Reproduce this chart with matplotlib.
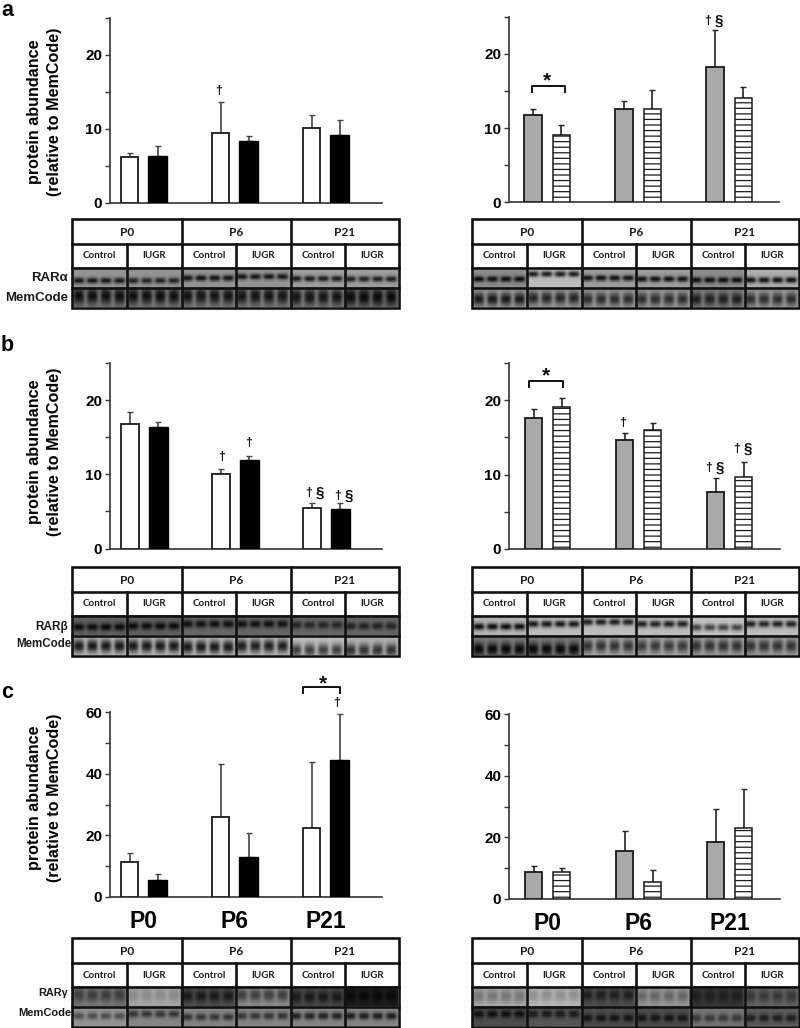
import numpy as np
import matplotlib
matplotlib.use('Agg')
import matplotlib.pyplot as plt
from matplotlib.patches import Rectangle

plt.rcParams['font.family'] = ['Liberation Sans', 'DejaVu Sans']
plt.rcParams['font.weight'] = 'bold'
plt.rcParams['hatch.linewidth'] = 0.9

W, H = 800, 1028

# bar values
ages = ['P0', 'P6', 'P21']
a_left_ctrl = [6.2, 9.5, 10.2]
a_left_ctrl_err = [0.6, 4.1, 1.7]
a_left_iugr = [6.4, 8.4, 9.2]
a_left_iugr_err = [1.3, 0.7, 2.0]
a_right_ctrl = [11.8, 12.5, 18.3]
a_right_ctrl_err = [0.8, 1.2, 4.9]
a_right_iugr = [9.1, 12.6, 14.0]
a_right_iugr_err = [1.3, 2.6, 1.6]
b_left_ctrl = [16.8, 10.0, 5.4]
b_left_ctrl_err = [1.6, 0.7, 0.7]
b_left_iugr = [16.4, 11.9, 5.3]
b_left_iugr_err = [0.7, 0.5, 0.8]
b_right_ctrl = [17.6, 14.7, 7.7]
b_right_ctrl_err = [1.2, 0.9, 1.8]
b_right_iugr = [19.1, 16.0, 9.7]
b_right_iugr_err = [1.2, 0.9, 2.0]
c_left_ctrl = [11.5, 25.8, 22.4]
c_left_ctrl_err = [2.8, 17.2, 21.5]
c_left_iugr = [5.5, 13.0, 44.5]
c_left_iugr_err = [2.0, 7.6, 15.0]
c_right_ctrl = [8.9, 15.6, 18.6]
c_right_ctrl_err = [1.7, 6.4, 10.7]
c_right_iugr = [8.9, 5.4, 23.1]
c_right_iugr_err = [1.2, 4.0, 12.6]

# blot strips: background, band darkness and band height for each of the 6 lane groups
a_l_top = ([.58, .58, .58, .58, .62, .62], [.5, .45, .52, .5, .52, .5], [.68, .68, .55, .48, .58, .6])
a_l_mem = ([.48, .48, .5, .5, .5, .42], [.42, .42, .42, .42, .42, .38], [.45, .45, .45, .45, .5, .5])
a_r_top = ([.55, .74, .62, .62, .55, .68], [.5, .62, .56, .56, .5, .62], [.6, .35, .55, .6, .65, .65])
a_r_mem = ([.6, .6, .6, .6, .5, .6], [.5, .45, .42, .42, .38, .42], [.6, .55, .6, .6, .6, .6])
b_l_top = ([.38, .38, .4, .4, .4, .4], [.34, .34, .34, .34, .26, .26], [.6, .55, .45, .45, .5, .55])
b_l_mem = ([.72, .72, .72, .72, .75, .7], [.62, .62, .62, .6, .5, .5], [.55, .55, .6, .55, .75, .75])
b_r_top = ([.7, .74, .74, .74, .76, .74], [.65, .65, .62, .62, .5, .62], [.58, .45, .35, .45, .62, .45])
b_r_mem = ([.48, .48, .65, .65, .62, .62], [.45, .45, .45, .42, .42, .42], [.7, .7, .55, .55, .55, .55])
c_l_top = ([.46, .66, .32, .55, .3, .12], [.22, .12, .22, .3, .2, .08], [.45, .45, .5, .45, .55, .5])
c_l_mem = ([.58, .52, .52, .52, .52, .52], [.28, .32, .32, .32, .4, .42], [.5, .4, .55, .5, .5, .5])
c_r_top = ([.66, .72, .32, .6, .22, .4], [.2, .16, .2, .2, .1, .18], [.5, .45, .45, .5, .5, .5])
c_r_mem = ([.3, .34, .3, .3, .46, .36], [.24, .24, .22, .22, .24, .24], [.4, .4, .6, .6, .6, .6])

fig = plt.figure(figsize=(W / 100, H / 100), dpi=100)

# pixel-coordinate layer for blots and marks
page = fig.add_axes([0, 0, 1, 1], zorder=5)
page.set_xlim(0, W)
page.set_ylim(H, 0)
page.axis('off')
page.patch.set_alpha(0)


def bars(x0, x1, y0, y1, ymax, ref, ctrl, ctrl_err, iugr, iugr_err, fill, hatched, minor, labels=False):
    ax = fig.add_axes([x0 / W, 1 - y0 / H, (x1 - x0) / W, (y0 - y1) / H])
    pos = np.arange(3)
    ax.set_xlim((x0 - ref) / 91, (x1 - ref) / 91)
    ax.set_ylim(0, ymax)
    zero = [0, 0, 0]
    ec = '#1a1a1a'
    err_c = '#222222' if hatched else '#444444'
    ax.bar(pos, ctrl, 0.19, color=fill, edgecolor=ec, linewidth=1.3, zorder=3)
    ax.errorbar(pos, ctrl, yerr=[zero, ctrl_err], fmt='none', ecolor=err_c, elinewidth=1.2, capsize=2.4, capthick=1, zorder=2)
    if hatched:
        ax.bar(pos + 0.31, iugr, 0.19, color='white', edgecolor=ec, hatch='---', linewidth=1.1, zorder=3)
    else:
        ax.bar(pos + 0.31, iugr, 0.21, color='black', edgecolor='black', linewidth=1, zorder=3)
    ax.errorbar(pos + 0.31, iugr, yerr=[zero, iugr_err], fmt='none', ecolor=err_c, elinewidth=1.2, capsize=2.4, capthick=1, zorder=2)
    for s in ['top', 'right']:
        ax.spines[s].set_visible(False)
    ax.spines['left'].set_linewidth(1.2)
    ax.spines['bottom'].set_linewidth(1.2)
    ax.spines['left'].set_color('#333333')
    ax.spines['bottom'].set_color('#333333')
    ax.set_yticks(np.arange(0, ymax + 1, minor))
    ax.set_yticklabels([str(v) if v % (2 * minor) == 0 else '' for v in np.arange(0, ymax + 1, minor)])
    ax.tick_params(axis='y', length=3.5, width=1, labelsize=11, pad=2, color='#333333')
    if labels:
        ax.set_xticks(pos + 0.155)
        ax.set_xticklabels(ages, fontsize=16.5)
        ax.tick_params(axis='x', length=0, pad=9)
    else:
        ax.set_xticks([])
    return ax


bars(110, 382, 203, 18, 25, 129.5, a_left_ctrl, a_left_ctrl_err, a_left_iugr, a_left_iugr_err, 'white', False, 5)
bars(509, 779, 202, 17, 25, 533, a_right_ctrl, a_right_ctrl_err, a_right_iugr, a_right_iugr_err, '#a9a9a9', True, 5)
bars(110, 382, 548.5, 363, 25, 130, b_left_ctrl, b_left_ctrl_err, b_left_iugr, b_left_iugr_err, 'white', False, 5)
bars(509, 780, 549, 363, 25, 533.5, b_right_ctrl, b_right_ctrl_err, b_right_iugr, b_right_iugr_err, '#a9a9a9', True, 5)
bars(110, 382, 897, 712, 60, 129.5, c_left_ctrl, c_left_ctrl_err, c_left_iugr, c_left_iugr_err, 'white', False, 10, labels=True)
bars(509, 780, 899, 714, 60, 533.5, c_right_ctrl, c_right_ctrl_err, c_right_iugr, c_right_iugr_err, '#a9a9a9', True, 10, labels=True)

# y titles and panel letters
for yc in [112, 452, 798]:
    page.text(35, yc, 'protein abundance', rotation=90, ha='center', va='center', fontsize=11.6)
    page.text(55, yc, '(relative to MemCode)', rotation=90, ha='center', va='center', fontsize=11.6)
for letter, yb in zip('abc', [15.5, 351, 698]):
    page.text(1, yb, letter, ha='left', va='baseline', fontsize=15.5)


def strip(x0, y0, y1, data, wide, sy):
    # one blot row: 24 lanes in 6 groups
    bg, dark, ypos = data
    nx, ny = 216, 24
    xx = (np.arange(nx) + 0.5) / nx
    yy = (np.arange(ny) + 0.5) / ny
    img = np.zeros((ny, nx))
    for g in range(6):
        i0, i1 = g * nx // 6, (g + 1) * nx // 6
        img[:, i0:i1] = bg[g]
        for k in range(4):
            xc = (g + (k + 0.5) / 4) / 6
            lane = np.exp(-((xx - xc) / (wide / 24)) ** 4)
            band = np.exp(-((yy - ypos[g]) / sy) ** 2)
            img -= np.outer(band, lane) * dark[g] * (np.arange(nx) >= i0) * (np.arange(nx) < i1)
    page.imshow(np.clip(img, 0, 1), cmap='gray', vmin=0, vmax=1, extent=[x0, x0 + 326, y1, y0],
                aspect='auto', interpolation='bilinear', zorder=1)


def blot(x0, top, upper, lower, top_sy, mem_sy):
    x1 = x0 + 327
    strip(x0, top + 48, top + 68, upper, 0.42, top_sy)
    strip(x0, top + 68, top + 88, lower, 0.4, mem_sy)
    rows = [top + 25, top + 48.5, top + 68.5]
    page.add_patch(Rectangle((x0, top), 327, 48, fc='white', ec='none', zorder=2))
    page.add_patch(Rectangle((x0, top), 327, 88.5, fc='none', ec='#111111', lw=1.9, zorder=4))
    for r in rows:
        page.plot([x0, x1], [r, r], color='#111111', lw=1.9, zorder=4)
    for v in [110, 219]:
        page.plot([x0 + v, x0 + v], [top, top + 88], color='#111111', lw=1.9, zorder=4)
    for v in [55, 164, 273]:
        page.plot([x0 + v, x0 + v], [top + 25, top + 88], color='#111111', lw=1.9, zorder=4)
    for name, v in zip(ages, [55, 164, 273]):
        page.text(x0 + v, top + 13.5, name, ha='center', va='center', family='Lato', fontsize=8.6, color='#1a1a1a')
    for v, name in zip([27.5, 82.5, 137, 191.5, 246, 300], ['Control', 'IUGR'] * 3):
        page.text(x0 + v, top + 37, name, ha='center', va='center', family='Lato', fontsize=7, color='#1a1a1a')


blot(72, 219, a_l_top, a_l_mem, 0.15, 0.42)
blot(472, 219, a_r_top, a_r_mem, 0.15, 0.32)
blot(72, 567, b_l_top, b_l_mem, 0.19, 0.32)
blot(472, 567, b_r_top, b_r_mem, 0.17, 0.32)
blot(72, 938, c_l_top, c_l_mem, 0.32, 0.18)
blot(472, 938, c_r_top, c_r_mem, 0.32, 0.2)

# strip names
for name, yc, xr, fs in [('RARα', 278, 68, 9.5), ('MemCode', 298, 68, 9.5), ('RARβ', 627, 68, 8.5),
                         ('MemCode', 644, 71, 8.3), ('RARγ', 993, 68, 7.8), ('MemCode', 1013, 71, 8)]:
    page.text(xr, yc, name, ha='right', va='center', fontsize=fs, color='#1a1a1a')

# significance marks
for x, y in [(219, 91), (222, 457), (249, 443), (623, 423), (337, 703)]:
    page.text(x, y, '†', ha='center', va='center', fontsize=9, color='#111111')
for x, y in [(713, 21), (314, 493), (343, 496), (714, 468), (742, 449)]:
    page.text(x - 5.5, y, '†', ha='center', va='center', fontsize=9, color='#111111')
    page.text(x + 5.5, y, '§', ha='center', va='center', fontsize=11, color='#111111')

for xa, xb, ytop, ydrop, xs, ys in [(532, 565, 86, 92, 547, 81), (529, 563, 381, 387, 546, 376), (303, 340, 687, 693, 323, 684)]:
    page.plot([xa, xa, xb, xb], [ydrop, ytop, ytop, ydrop], color='#111111', lw=1.4, zorder=4)
    page.text(xs, ys, '*', ha='center', va='center', fontsize=15, color='#111111')

fig.savefig('out.png', dpi=100)
